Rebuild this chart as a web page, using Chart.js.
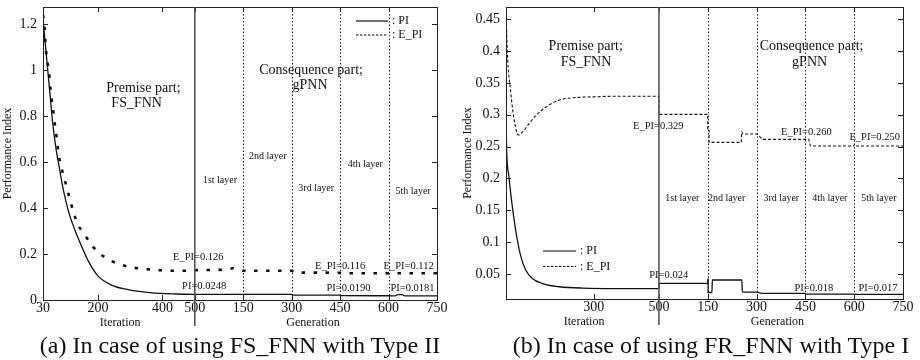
<!DOCTYPE html>
<html>
<head>
<meta charset="utf-8">
<script src="https://cdn.jsdelivr.net/npm/chart.js@4.4.1/dist/chart.umd.min.js"></script>
<style>
  html, body { margin: 0; padding: 0; background: #fff; }
  body { width: 920px; height: 360px; position: relative; overflow: hidden; font-family: "Liberation Serif", serif; }
  .panel { position: absolute; top: 0; width: 460px; height: 360px; }
  #panelA { left: 0; }
  #panelB { left: 460px; }
  .caption { position: absolute; top: 331px; width: 460px; text-align: center; font-size: 24px; line-height: 28px; color: #111; }
</style>
</head>
<body>
<div class="panel" id="panelA"><canvas id="chartA"></canvas></div>
<div class="panel" id="panelB"><canvas id="chartB"></canvas></div>
<div class="caption" style="left:10px">(a) In case of using FS_FNN with Type II</div>
<div class="caption" style="left:481px">(b) In case of using FR_FNN with Type I</div>
<script>
// x axis is one linear scale: iterations 30..500, then generations 0..750 shifted by 500
const GEN = 500;
const FONT = '"Liberation Serif", "Times New Roman", serif';

// (a) FS_FNN with Type II
const aPiIter = [30, 40, 50, 60, 70, 80, 90, 100, 110, 130, 150, 170, 200, 240, 290, 360, 440, 500];
const aPiIterVal = [1.22, 1.07, 0.92, 0.77, 0.66, 0.58, 0.50, 0.435, 0.38, 0.30, 0.232, 0.17, 0.105, 0.066, 0.046, 0.032, 0.026, 0.0248];
const aPiGen = [0, 300, 302, 450, 452, 600, 620, 628, 642, 650, 750];
const aPiGenVal = [0.0248, 0.0248, 0.021, 0.021, 0.019, 0.0185, 0.0181, 0.023, 0.023, 0.0181, 0.0181];
const aEpiIter = [30, 34, 39, 43, 49, 52, 57, 62, 67, 72, 79, 93, 103, 113, 124, 137, 155, 175, 199, 232, 268, 304, 345, 387, 428, 464, 500];
const aEpiIterVal = [1.24, 1.2, 1.09, 1.04, 0.99, 0.93, 0.87, 0.82, 0.76, 0.71, 0.63, 0.543, 0.493, 0.438, 0.384, 0.33, 0.293, 0.25, 0.21, 0.177, 0.155, 0.142, 0.135, 0.13, 0.127, 0.127, 0.13];
const aEpiGen = [0, 100, 118, 135, 150, 300, 310, 390, 400, 410, 450, 460, 750];
const aEpiGenVal = [0.13, 0.133, 0.138, 0.133, 0.127, 0.127, 0.119, 0.119, 0.121, 0.119, 0.118, 0.116, 0.116];
const aYTicks = [0, 0.2, 0.4, 0.6, 0.8, 1, 1.2];
const aXTicks = [30, 200, 400, 500, 650, 800, 950, 1100, 1250];

// (b) FR_FNN with Type I
const bPiIter = [30, 32, 39, 47, 55, 65, 76, 91, 111, 142, 194, 266, 500];
const bPiIterVal = [0.30, 0.245, 0.203, 0.166, 0.135, 0.103, 0.077, 0.056, 0.043, 0.035, 0.030, 0.028, 0.027];
const bPiGen = [0, 0, 150, 150, 151, 151, 163, 164, 255, 256, 300, 320, 450, 452, 600, 602, 750];
const bPiGenVal = [0.027, 0.0354, 0.0354, 0.042, 0.042, 0.021, 0.021, 0.0406, 0.0406, 0.022, 0.0215, 0.0197, 0.0197, 0.0186, 0.0186, 0.018, 0.018];
const bEpiIter = [30, 34, 45, 55, 68, 81, 101, 122, 153, 194, 246, 297, 369, 500];
const bEpiIterVal = [0.465, 0.40, 0.333, 0.292, 0.268, 0.273, 0.286, 0.299, 0.312, 0.323, 0.327, 0.328, 0.329, 0.329];
const bEpiGen = [0, 0, 150, 150, 154, 154, 253, 254, 258, 300, 320, 460, 466, 598, 602, 608, 750];
const bEpiGenVal = [0.329, 0.3005, 0.3005, 0.278, 0.278, 0.2566, 0.2566, 0.273, 0.2696, 0.2696, 0.2613, 0.2613, 0.2508, 0.2508, 0.254, 0.2508, 0.2508];
const bYTicks = [0.05, 0.1, 0.15, 0.2, 0.25, 0.3, 0.35, 0.4, 0.45];
const bXTicks = [300, 500, 650, 800, 950, 1100, 1250];

const layerLines = [150, 300, 450, 600]; // generation boundaries

function series(iterX, iterY, genX, genY) {
  return iterX.map((x, i) => ({ x, y: iterY[i] }))
    .concat(genX.map((g, i) => ({ x: GEN + g, y: genY[i] })));
}

const decorations = {
  id: 'decorations',
  afterDraw(chart, args, o) {
    const { ctx, chartArea: a, scales: { x, y } } = chart;
    ctx.save();
    ctx.strokeStyle = '#222';
    ctx.fillStyle = '#111';

    // inward tick marks
    ctx.lineWidth = 1;
    ctx.beginPath();
    o.yTicks.forEach(v => {
      const py = Math.round(y.getPixelForValue(v)) + 0.5;
      ctx.moveTo(a.left, py); ctx.lineTo(a.left + 5, py);
      ctx.moveTo(a.right, py); ctx.lineTo(a.right - 5, py);
    });
    o.xTicks.forEach(v => {
      if (v <= x.min || v >= x.max) return;
      const px = Math.round(x.getPixelForValue(v)) + 0.5;
      ctx.moveTo(px, a.top); ctx.lineTo(px, a.top + 5);
      ctx.moveTo(px, a.bottom); ctx.lineTo(px, a.bottom - 5);
    });
    ctx.stroke();

    // layer boundaries
    ctx.setLineDash([1.5, 2]);
    ctx.beginPath();
    layerLines.forEach(g => {
      const px = Math.round(x.getPixelForValue(GEN + g)) + 0.5;
      ctx.moveTo(px, a.top); ctx.lineTo(px, a.bottom);
    });
    ctx.stroke();
    ctx.setLineDash([]);

    // frame
    ctx.strokeRect(Math.round(a.left) + 0.5, Math.round(a.top) + 0.5, Math.round(a.right - a.left), Math.round(a.bottom - a.top));

    // premise / consequence separator
    ctx.strokeStyle = '#555';
    ctx.lineWidth = 1.6;
    const sx = x.getPixelForValue(GEN);
    ctx.beginPath();
    ctx.moveTo(sx, a.top); ctx.lineTo(sx, a.bottom + 26);
    ctx.stroke();

    // annotations
    ctx.textAlign = 'center';
    ctx.textBaseline = 'middle';
    o.notes.forEach(n => {
      ctx.font = n.size + 'px ' + FONT;
      ctx.fillText(n.text, x.getPixelForValue(n.x), y.getPixelForValue(n.y));
    });

    // axis titles
    ctx.font = '12px ' + FONT;
    ctx.fillText('Iteration', x.getPixelForValue(o.iterTitle), a.bottom + 23);
    ctx.fillText('Generation', x.getPixelForValue(o.genTitle), a.bottom + 23);
    ctx.save();
    ctx.translate(8, (a.top + a.bottom) / 2);
    ctx.rotate(-Math.PI / 2);
    ctx.fillText('Performance Index', 0, 0);
    ctx.restore();

    // legend
    const L = o.legend;
    ctx.strokeStyle = '#111';
    ctx.lineWidth = 1.2;
    ctx.beginPath();
    ctx.moveTo(L.x0, L.y); ctx.lineTo(L.x1, L.y);
    ctx.stroke();
    ctx.setLineDash([2.5, 1.5]);
    ctx.beginPath();
    ctx.moveTo(L.x0, L.y + L.gap); ctx.lineTo(L.x1, L.y + L.gap);
    ctx.stroke();
    ctx.setLineDash([]);
    ctx.textAlign = 'left';
    ctx.font = '12px ' + FONT;
    ctx.fillText(': PI', L.x1 + 4, L.y);
    ctx.fillText(': E_PI', L.x1 + 4, L.y + L.gap);
    ctx.restore();
  }
};

function makeChart(id, c) {
  const line = { pointRadius: 0, cubicInterpolationMode: 'monotone', clip: 0, borderColor: '#111' };
  return new Chart(document.getElementById(id), {
    type: 'line',
    data: {
      datasets: [
        { ...line, label: 'PI', data: c.pi, borderWidth: 1.3 },
        { ...line, label: 'E_PI', data: c.epi, borderWidth: c.epiWidth, borderDash: c.epiDash }
      ]
    },
    options: {
      responsive: true,
      maintainAspectRatio: false,
      animation: false,
      layout: { padding: c.padding },
      plugins: {
        legend: { display: false },
        tooltip: { enabled: false },
        decorations: { yTicks: c.yTicks, xTicks: c.xTicks, notes: c.notes, legend: c.legend, iterTitle: c.iterTitle, genTitle: c.genTitle }
      },
      scales: {
        x: {
          type: 'linear', min: 30, max: 1250,
          grid: { display: false, drawTicks: false }, border: { display: false },
          afterBuildTicks: s => { s.ticks = c.xTicks.map(v => ({ value: v })); },
          afterFit: s => { s.height = c.xHeight; s.paddingLeft = 0; s.paddingRight = 0; },
          ticks: { autoSkip: false, maxRotation: 0, padding: 0, color: '#111', font: { family: FONT, size: 14 },
            callback: v => (v <= GEN ? v : v - GEN) }
        },
        y: {
          min: c.yMin, max: c.yMax,
          grid: { display: false, drawTicks: false }, border: { display: false },
          afterBuildTicks: s => { s.ticks = c.yTicks.map(v => ({ value: v })); },
          afterFit: s => { s.width = c.yWidth; s.paddingTop = 0; s.paddingBottom = 0; },
          ticks: { padding: 6, color: '#111', font: { family: FONT, size: 14 }, callback: v => String(+v.toFixed(2)) }
        }
      }
    },
    plugins: [decorations]
  });
}

makeChart('chartA', {
  pi: series(aPiIter, aPiIterVal, aPiGen, aPiGenVal),
  epi: series(aEpiIter, aEpiIterVal, aEpiGen, aEpiGenVal),
  epiWidth: 2.6, epiDash: [3.5, 8.5],
  yMin: 0, yMax: 1.274, yTicks: aYTicks, xTicks: aXTicks,
  padding: { top: 7, right: 23, left: 0, bottom: 0 }, yWidth: 43, xHeight: 60,
  iterTitle: 269, genTitle: 866,
  legend: { x0: 356, x1: 388, y: 21, gap: 14 },
  notes: [
    { text: 'Premise part;', x: 341, y: 0.922, size: 14 },
    { text: 'FS_FNN', x: 320, y: 0.857, size: 14 },
    { text: 'Consequence part;', x: 860, y: 0.997, size: 14 },
    { text: 'gPNN', x: 857, y: 0.935, size: 14 },
    { text: '1st layer', x: 578, y: 0.522, size: 10 },
    { text: '2nd layer', x: 726, y: 0.623, size: 10 },
    { text: '3rd layer', x: 876, y: 0.486, size: 10 },
    { text: '4th layer', x: 1028, y: 0.591, size: 10 },
    { text: '5th layer', x: 1176, y: 0.471, size: 10 },
    { text: 'E_PI=0.126', x: 511, y: 0.188, size: 10.5 },
    { text: 'PI=0.0248', x: 529, y: 0.058, size: 10.5 },
    { text: 'E_PI=0.116', x: 950, y: 0.145, size: 10.5 },
    { text: 'PI=0.0190', x: 976, y: 0.051, size: 10.5 },
    { text: 'E_PI=0.112', x: 1162, y: 0.148, size: 10.5 },
    { text: 'PI=0.0181', x: 1174, y: 0.051, size: 10.5 }
  ]
});

makeChart('chartB', {
  pi: series(bPiIter, bPiIterVal, bPiGen, bPiGenVal),
  epi: series(bEpiIter, bEpiIterVal, bEpiGen, bEpiGenVal),
  epiWidth: 1.1, epiDash: [3, 2],
  yMin: 0.0108, yMax: 0.469, yTicks: bYTicks, xTicks: bXTicks,
  padding: { top: 7, right: 17, left: 0, bottom: 0 }, yWidth: 46, xHeight: 61,
  iterTitle: 270, genTitle: 864,
  legend: { x0: 83, x1: 116, y: 251, gap: 15.5 },
  notes: [
    { text: 'Premise part;', x: 275, y: 0.4067, size: 14 },
    { text: 'FS_FNN', x: 276, y: 0.3822, size: 14 },
    { text: 'Consequence part;', x: 969, y: 0.4067, size: 14 },
    { text: 'gPNN', x: 963, y: 0.3827, size: 14 },
    { text: 'E_PI=0.329', x: 498, y: 0.2823, size: 10.5 },
    { text: 'E_PI=0.260', x: 953, y: 0.2718, size: 10.5 },
    { text: 'E_PI=0.250', x: 1163, y: 0.265, size: 10.5 },
    { text: '1st layer', x: 572, y: 0.1688, size: 10 },
    { text: '2nd layer', x: 708, y: 0.1688, size: 10 },
    { text: '3rd layer', x: 876, y: 0.1688, size: 10 },
    { text: '4th layer', x: 1025, y: 0.1688, size: 10 },
    { text: '5th layer', x: 1176, y: 0.1688, size: 10 },
    { text: 'PI=0.024', x: 530, y: 0.0485, size: 10.5 },
    { text: 'PI=0.018', x: 976, y: 0.0276, size: 10.5 },
    { text: 'PI=0.017', x: 1173, y: 0.0276, size: 10.5 }
  ]
});
</script>
</body>
</html>
